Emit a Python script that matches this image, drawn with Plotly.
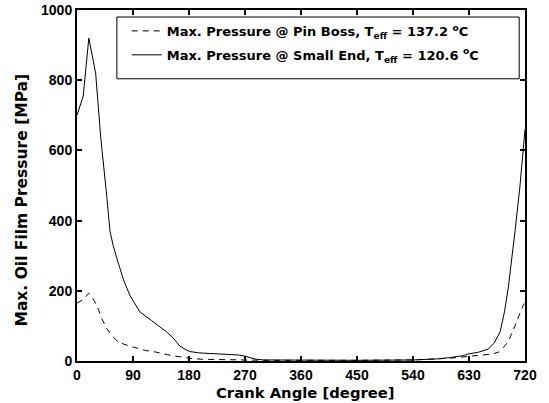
import plotly.graph_objects as go

# Crank angle [deg] and max oil film pressure [MPa]
angle_small_end = [0, 10, 19, 25, 30, 38, 43, 48, 53, 58, 64, 75, 85, 101, 120, 144, 155,
                   165, 175, 181, 197, 220, 245, 260, 269, 280, 288, 300, 360, 450, 540,
                   580, 600, 620, 629, 645, 661, 670, 680, 687, 693, 699, 704, 712, 717, 720]
p_small_end = [700, 755, 920, 870, 820, 640, 560, 466, 370, 330, 293, 230, 187, 140, 115, 83, 65,
               43, 32, 27, 23, 21, 20, 17, 14, 8, 5, 3, 2, 2, 3,
               6, 10, 15, 20, 25, 34, 50, 83, 140, 207, 290, 370, 500, 609, 660]

angle_pin_boss = [0, 10, 19, 25, 32, 40, 48, 56, 64, 75, 90, 110, 128, 145, 165, 180, 200,
                  250, 300, 450, 540, 600, 640, 656, 668, 677, 685, 693, 699, 704, 710, 717, 720]
p_pin_boss = [165, 175, 193, 180, 158, 120, 92, 72, 58, 48, 40, 30, 25, 18, 12, 8, 5,
              3, 2, 2, 3, 8, 14, 17, 20, 25, 38, 55, 78, 101, 128, 158, 165]

x_ticks = [0, 90, 180, 270, 360, 450, 540, 630, 720]
y_ticks = [0, 200, 400, 600, 800, 1000]

TICK_FONT = "Liberation Sans, Arial, sans-serif"
TEXT_FONT = "DejaVu Sans, sans-serif"

fig = go.Figure()
fig.add_trace(go.Scatter(
    x=angle_pin_boss, y=p_pin_boss, mode="lines",
    line=dict(color="black", width=1, dash="6px,5px"), legend="legend",
    name="Max. Pressure @ Pin Boss, T<sub>eff</sub> = 137.2 <sup>o</sup>C"))
fig.add_trace(go.Scatter(
    x=angle_small_end, y=p_small_end, mode="lines",
    line=dict(color="black", width=1), legend="legend2",
    name="Max. Pressure @ Small End, T<sub>eff</sub> = 120.6 <sup>o</sup>C"))

# legend frame
fig.add_shape(type="rect", xref="paper", yref="paper",
              x0=0.089, x1=0.987, y0=0.804, y1=0.98,
              line=dict(color="black", width=1), fillcolor="white", layer="below")

axis_common = dict(
    showline=True, linecolor="black", linewidth=2, mirror="ticks",
    ticks="inside", ticklen=5, tickwidth=2, tickcolor="black",
    showgrid=False, zeroline=False, automargin=False,
    tickfont=dict(family=TICK_FONT, size=14, color="black", weight="bold"),
)

legend_common = dict(
    xanchor="left", yanchor="middle",
    borderwidth=0, bgcolor="rgba(0,0,0,0)",
    font=dict(family=TEXT_FONT, size=13, color="black", weight="bold"),
    itemwidth=30,
)

fig.update_layout(
    width=549, height=403,
    margin=dict(l=77, r=24, t=10, b=42),
    paper_bgcolor="white", plot_bgcolor="white",
    showlegend=True,
    legend=dict(x=0.111, y=(362 - 31) / 352, **legend_common),
    legend2=dict(x=0.111, y=(362 - 55) / 352, **legend_common),
    xaxis=dict(range=[0, 720], tickvals=x_ticks, ticklabelstandoff=0, **axis_common),
    yaxis=dict(range=[0, 1000], tickvals=y_ticks, **axis_common),
    annotations=[
        dict(text="Crank Angle [degree]", xref="paper", yref="paper",
             x=0.511, y=-0.089, xanchor="center", yanchor="middle", showarrow=False,
             font=dict(family=TEXT_FONT, size=14.8, color="black", weight="bold")),
        dict(text="Max. Oil Film Pressure [MPa]", xref="paper", yref="paper",
             x=-0.1228, y=0.46, xanchor="center", yanchor="middle", showarrow=False,
             textangle=-90,
             font=dict(family=TEXT_FONT, size=15.5, color="black", weight="bold")),
    ],
)

fig.write_html("out.html")
